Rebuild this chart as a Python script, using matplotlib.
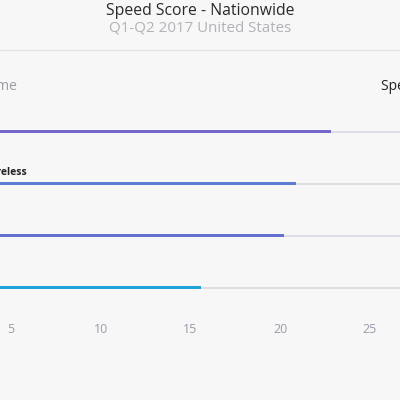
import matplotlib
matplotlib.use("Agg")
import matplotlib.pyplot as plt
from matplotlib.lines import Line2D

carriers = ["T-Mobile", "Verizon Wireless", "AT&T", "Sprint"]
speed_scores = [22.8, 20.9, 20.2, 15.6]
bar_colors = ["#7367c9", "#5b7ed4", "#6570d1", "#1fa3d8"]
xticks = [0, 5, 10, 15, 20, 25, 30]
track_max = 30

plt.rcParams['font.family'] = ['Open Sans', 'DejaVu Sans']
BG = "#f7f7f8"
W = H = 400
fig = plt.figure(figsize=(4, 4), dpi=100, facecolor=BG)

px_per_unit = 17.95
x0_px = -78.75  # pixel position of value 0

def px2x(px):
    return (px - x0_px) / px_per_unit

# axes geometry in pixels (from top)
ax_top_px, ax_bot_px = 100, 318
ax = fig.add_axes([0, 1 - ax_bot_px / H, 1, (ax_bot_px - ax_top_px) / H])
ax.set_facecolor(BG)
row_px = 52

for s in ax.spines.values():
    s.set_visible(False)
ax.set_yticks([])
ax.set_xticks(xticks)
ax.set_xticklabels([str(t) for t in xticks])
ax.tick_params(axis='x', length=0, pad=3.5, labelsize=9, labelcolor="#9c9aa8")

ys = list(range(len(carriers)))
ax.barh([y + 0.012 for y in ys], [track_max] * len(ys), height=0.038,
        color="#dddde4", zorder=1)
ax.barh(ys, speed_scores, height=0.058, color=bar_colors, zorder=2)

# carrier labels (left aligned, mostly cropped)
for y, name in zip(ys, carriers):
    ax.text(px2x(-58), y - 11 / row_px, name, ha='left', va='center',
            fontsize=7.5, fontweight='bold', color="#222222", clip_on=False)

# column headers
hy = -(131 - 87) / row_px
ax.text(px2x(17), hy, "Name", ha='right', va='center', fontsize=10,
        color="#9a9aa6", clip_on=False)
ax.text(px2x(381), hy, "Speed Score", ha='left', va='center', fontsize=10,
        color="#222222", clip_on=False)

ax.set_xlim(px2x(0), px2x(W))
ax.set_ylim(3 + (ax_bot_px - 288) / row_px, 0 - (131 - ax_top_px) / row_px)

# title
fig.text(0.5, 1 - 11 / H, "Speed Score - Nationwide", ha='center', va='center',
         fontsize=11.3, color="#2a2a2a")
fig.text(0.5, 1 - 28 / H, "Q1-Q2 2017 United States", ha='center', va='center',
         fontsize=10.9, color="#b2b2b8")
fig.add_artist(Line2D([0, 1], [1 - 50 / H, 1 - 50 / H], color="#e4e4e8",
                      lw=1, transform=fig.transFigure))

fig.savefig("out.png", dpi=100, facecolor=BG)
